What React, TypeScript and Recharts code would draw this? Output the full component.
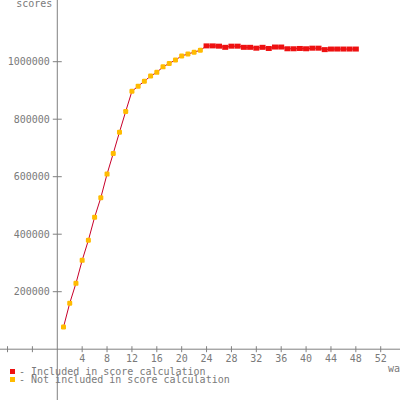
import { LineChart, Line, XAxis, YAxis, ReferenceLine } from "recharts";

// waves 1..48
const waves = [
  1, 2, 3, 4, 5, 6, 7, 8, 9, 10, 11, 12, 13, 14, 15, 16, 17, 18, 19, 20, 21, 22, 23, 24,
  25, 26, 27, 28, 29, 30, 31, 32, 33, 34, 35, 36, 37, 38, 39, 40, 41, 42, 43, 44, 45, 46, 47, 48,
];

// waves 1-23, not included in score calculation
const notIncludedScores = [
  77000, 160000, 229000, 309000, 379000, 459000, 527000, 609000, 681000, 755000, 827000, 897000,
  915000, 932000, 950000, 963000, 982000, 994000, 1006000, 1020000, 1027000, 1033000, 1040000,
];

// waves 24-48, included in score calculation
const includedScores = [
  1055000, 1055000, 1054000, 1050000, 1054000, 1054000, 1050000, 1050000, 1047000, 1050000,
  1046000, 1051000, 1051000, 1045000, 1045000, 1046000, 1045000, 1047000, 1047000, 1042000,
  1044000, 1044000, 1044000, 1044000, 1044000,
];

const xTicks = [-8, -4, 4, 8, 12, 16, 20, 24, 28, 32, 36, 40, 44, 48, 52];
const yTicks = [200000, 400000, 600000, 800000, 1000000];

const data = waves.map((w, i) => {
  const inc = i >= notIncludedScores.length;
  return {
    wave: w,
    score: inc ? includedScores[i - notIncludedScores.length] : notIncludedScores[i],
    included: inc,
  };
});

const FONT = "'DejaVu Sans Mono', monospace";
const GREY = "#808080";
const TXT = "#7a7a7a";

const renderDot = (p: any) => {
  if (p.payload.included) {
    return <rect key={p.index} x={p.cx - 3} y={p.cy - 2.5} width={6} height={5} fill="#ee1111" />;
  }
  return <rect key={p.index} x={p.cx - 2.5} y={p.cy - 2.5} width={5} height={5} rx={1.2} fill="#ffbb00" />;
};

export default function App() {
  return (
    <div style={{ position: "absolute", left: 0, top: 0, width: 400, height: 400, background: "#fff" }}>
      <LineChart width={400} height={400} data={data} margin={{ top: 0, right: 0, bottom: 0, left: 0 }}>
        <XAxis type="number" dataKey="wave" domain={[-9.21, 55.1]} allowDataOverflow hide />
        <YAxis type="number" domain={[-176700, 1214600]} allowDataOverflow hide />
        <ReferenceLine
          x={0}
          stroke={GREY}
          label={({ viewBox }: any) => (
            <text x={viewBox.x - 5} y={viewBox.y + 7} textAnchor="end" fontFamily={FONT} fontSize={10} fill={TXT}>
              scores
            </text>
          )}
        />
        <ReferenceLine
          y={0}
          stroke={GREY}
          label={({ viewBox }: any) => (
            <text x={viewBox.x + viewBox.width - 12} y={viewBox.y + 22.5} fontFamily={FONT} fontSize={10} fill={TXT}>
              waves
            </text>
          )}
        />
        {xTicks.map((t) => (
          <ReferenceLine
            key={"x" + t}
            segment={[{ x: t, y: -10400 }, { x: t, y: 10400 }]}
            stroke={GREY}
            label={t > 0 ? { value: t, position: "bottom", offset: 3, fontFamily: FONT, fontSize: 10, fill: TXT } : undefined}
          />
        ))}
        {yTicks.map((t) => (
          <ReferenceLine
            key={"y" + t}
            segment={[{ x: -0.72, y: t }, { x: 0.72, y: t }]}
            stroke={GREY}
            label={{ value: t, position: "left", offset: 3, fontFamily: FONT, fontSize: 10, fill: TXT }}
          />
        ))}
        <Line
          dataKey="score"
          type="linear"
          stroke="#c8002a"
          strokeWidth={1}
          dot={renderDot}
          activeDot={false}
          isAnimationActive={false}
        />
      </LineChart>
      <div style={{ position: "absolute", left: 10, top: 368, fontFamily: FONT, fontSize: 10, lineHeight: "8px", color: TXT, whiteSpace: "pre" }}>
        <div style={{ height: 8, position: "relative" }}>
          <span style={{ position: "absolute", left: 0, top: 1, width: 5, height: 5, background: "#ee1111" }} />
          <span style={{ position: "absolute", left: 9 }}>- Included in score calculation</span>
        </div>
        <div style={{ height: 8, position: "relative" }}>
          <span style={{ position: "absolute", left: 0, top: 1, width: 5, height: 5, background: "#ffbb00" }} />
          <span style={{ position: "absolute", left: 9 }}>- Not included in score calculation</span>
        </div>
      </div>
    </div>
  );
}
